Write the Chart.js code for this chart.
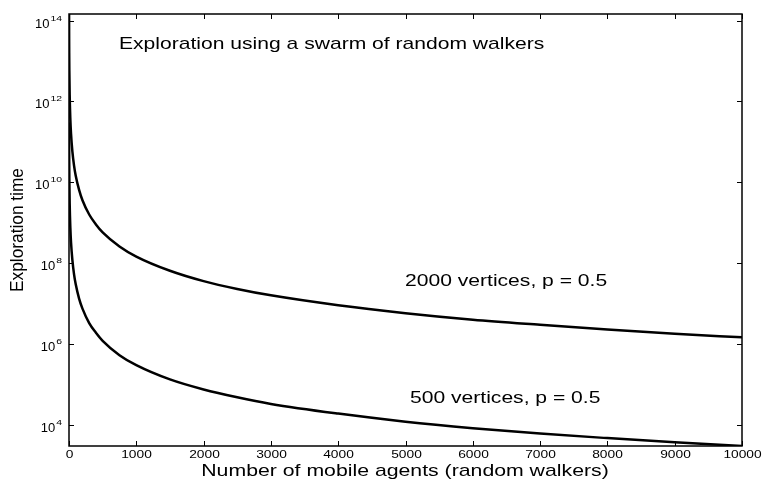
<!DOCTYPE html>
<html>
<head>
<meta charset="utf-8">
<script src="https://cdn.jsdelivr.net/npm/chart.js@4/dist/chart.umd.min.js"></script>
<style>
html,body{margin:0;padding:0;background:#fff;}
canvas{display:block;}
</style>
</head>
<body>
<canvas id="c" width="763" height="482"></canvas>
<script>
// ---- data ----
const agents = [1, 2, 3, 5, 10, 20, 30, 50, 75, 100, 150, 200, 300, 400, 500, 750, 1000, 1500, 2000, 2500, 3000, 4000, 5000, 6000, 7000, 8000, 9000, 10000];
const time2000 = [1.46e14, 3.6e13, 1.6e13, 5.8e12, 1.46e12, 3.6e11, 1.6e11, 5.8e10, 2.6e10, 1.46e10, 6.5e9, 3.6e9, 1.6e9, 9.1e8, 5.8e8, 2.6e8, 1.46e8, 6.5e7, 3.6e7, 2.3e7, 1.6e7, 9.1e6, 5.8e6, 4.0e6, 3.0e6, 2.3e6, 1.8e6, 1.46e6];
const time500 = [3.0e11, 7.5e10, 3.3e10, 1.2e10, 3.0e9, 7.5e8, 3.3e8, 1.2e8, 5.3e7, 3.0e7, 1.33e7, 7.5e6, 3.3e6, 1.9e6, 1.2e6, 5.3e5, 3.0e5, 1.33e5, 7.5e4, 4.8e4, 3.3e4, 1.9e4, 1.2e4, 8.3e3, 6.1e3, 4.7e3, 3.7e3, 3.0e3];
const seriesLabels = ["2000 vertices, p = 0.5", "500 vertices, p = 0.5"];
const xTicks = [0, 1000, 2000, 3000, 4000, 5000, 6000, 7000, 8000, 9000, 10000];
const yTickExps = [4, 6, 8, 10, 12, 14];
const titleText = "Exploration using a swarm of random walkers";
const xTitle = "Number of mobile agents (random walkers)";
const yTitle = "Exploration time";

const FONT = '"Liberation Sans", Arial, Helvetica, sans-serif';

const pts = ys => agents.map((a, i) => ({x: a, y: ys[i]}));

// draws text stretched horizontally by sx (the reference glyphs are wide)
function wideText(ctx, text, x, y, size, sx, align, baseline) {
  ctx.save();
  ctx.font = size + 'px ' + FONT;
  ctx.textAlign = align;
  ctx.textBaseline = baseline;
  ctx.translate(x, y);
  ctx.scale(sx, 1);
  ctx.fillText(text, 0, 0);
  ctx.restore();
}

const decor = {
  id: 'decor',
  afterDraw(chart) {
    const ctx = chart.ctx, ca = chart.chartArea;
    const xs = chart.scales.x, ys = chart.scales.y;
    ctx.save();
    ctx.strokeStyle = '#000';
    ctx.fillStyle = '#000';
    // frame
    ctx.lineWidth = 1.5;
    ctx.strokeRect(ca.left, ca.top, ca.right - ca.left, ca.bottom - ca.top);
    ctx.lineWidth = 1;
    const tl = 5;
    // x ticks (inward, bottom and top)
    xTicks.forEach(v => {
      const px = Math.round(xs.getPixelForValue(v)) + 0.5;
      ctx.beginPath();
      ctx.moveTo(px, ca.bottom); ctx.lineTo(px, ca.bottom - tl);
      ctx.moveTo(px, ca.top); ctx.lineTo(px, ca.top + tl);
      ctx.stroke();
      wideText(ctx, String(v), px, ca.bottom + 9, 11, 1.25, 'center', 'middle');
    });
    // y ticks (inward, left and right) with 10^n labels
    yTickExps.forEach(e => {
      const py = Math.round(ys.getPixelForValue(Math.pow(10, e))) + 0.5;
      ctx.beginPath();
      ctx.moveTo(ca.left, py); ctx.lineTo(ca.left + tl, py);
      ctx.moveTo(ca.right, py); ctx.lineTo(ca.right - tl, py);
      ctx.stroke();
      const exp = String(e);
      ctx.font = '8px ' + FONT;
      const ew = ctx.measureText(exp).width * 1.3;
      const right = ca.left - 7;
      wideText(ctx, exp, right, py - 1, 8, 1.3, 'right', 'alphabetic');
      wideText(ctx, '10', right - ew - 1, py + 6, 13, 1.0, 'right', 'alphabetic');
    });
    // annotation texts
    wideText(ctx, titleText, 119, 44, 17, 1.24, 'left', 'middle');
    wideText(ctx, seriesLabels[0], 405, 281, 17, 1.24, 'left', 'middle');
    wideText(ctx, seriesLabels[1], 410, 398, 17, 1.24, 'left', 'middle');
    // axis titles
    wideText(ctx, xTitle, 405, 471, 17, 1.25, 'center', 'middle');
    ctx.save();
    ctx.translate(18, 230);
    ctx.rotate(-Math.PI / 2);
    ctx.scale(1.08, 1.15);
    ctx.font = '16px ' + FONT;
    ctx.textAlign = 'center';
    ctx.textBaseline = 'middle';
    ctx.fillText(yTitle, 0, 0);
    ctx.restore();
    ctx.restore();
  }
};

new Chart(document.getElementById('c'), {
  type: 'line',
  data: {
    datasets: [
      {label: seriesLabels[0], data: pts(time2000), borderColor: '#000', borderWidth: 2.5, pointRadius: 0, fill: false, cubicInterpolationMode: 'monotone'},
      {label: seriesLabels[1], data: pts(time500), borderColor: '#000', borderWidth: 2.5, pointRadius: 0, fill: false, cubicInterpolationMode: 'monotone'}
    ]
  },
  options: {
    responsive: false,
    animation: false,
    devicePixelRatio: 1,
    layout: {padding: {left: 69, top: 14, right: 21, bottom: 36}},
    plugins: {legend: {display: false}, tooltip: {enabled: false}, title: {display: false}},
    scales: {
      x: {
        type: 'linear', min: 0, max: 10000,
        ticks: {display: false, stepSize: 1000},
        grid: {display: false, drawTicks: false},
        border: {display: false},
        afterFit: s => { s.height = 0; }
      },
      y: {
        type: 'logarithmic', min: 3.0e3, max: 1.46e14,
        ticks: {display: false},
        grid: {display: false, drawTicks: false},
        border: {display: false},
        afterFit: s => { s.width = 0; }
      }
    }
  },
  plugins: [decor]
});
</script>
</body>
</html>
